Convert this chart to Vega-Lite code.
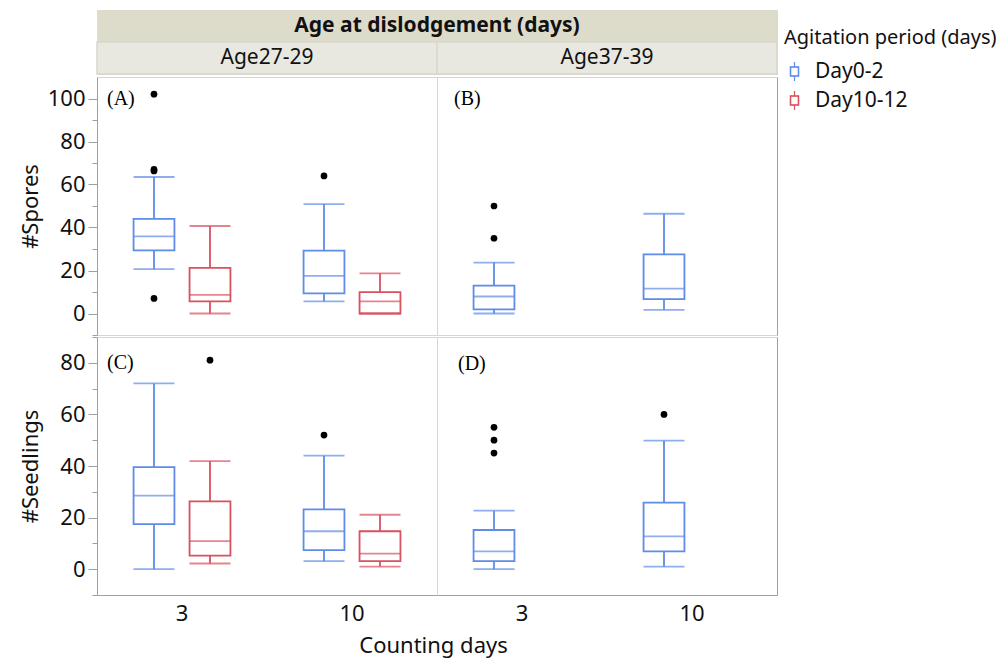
{
 "$schema": "https://vega.github.io/schema/vega-lite/v6.json",
 "background": "white",
 "padding": {"left": 18, "top": 9, "right": 5, "bottom": 5},
 "spacing": 0,
 "datasets": {
  "boxes": [
   {"panel":"A","count":"3","period":"Day0-2","lower":20.6,"q1":29.4,"median":35.9,"q3":44.0,"upper":63.5},
   {"panel":"A","count":"3","period":"Day10-12","lower":0,"q1":5.6,"median":8.7,"q3":21.2,"upper":40.7},
   {"panel":"A","count":"10","period":"Day0-2","lower":5.6,"q1":9.4,"median":17.5,"q3":29.2,"upper":50.9},
   {"panel":"A","count":"10","period":"Day10-12","lower":0,"q1":0,"median":5.6,"q3":9.9,"upper":18.7},
   {"panel":"B","count":"3","period":"Day0-2","lower":0,"q1":1.9,"median":7.9,"q3":13.0,"upper":23.7},
   {"panel":"B","count":"10","period":"Day0-2","lower":1.7,"q1":6.7,"median":11.6,"q3":27.5,"upper":46.4},
   {"panel":"C","count":"3","period":"Day0-2","lower":0,"q1":17.5,"median":28.5,"q3":39.6,"upper":72.0},
   {"panel":"C","count":"3","period":"Day10-12","lower":2.2,"q1":5.3,"median":10.9,"q3":26.3,"upper":41.9},
   {"panel":"C","count":"10","period":"Day0-2","lower":3.1,"q1":7.4,"median":14.7,"q3":23.2,"upper":44.0},
   {"panel":"C","count":"10","period":"Day10-12","lower":1.0,"q1":3.1,"median":6.0,"q3":14.7,"upper":21.1},
   {"panel":"D","count":"3","period":"Day0-2","lower":0,"q1":3.1,"median":6.9,"q3":15.2,"upper":22.7},
   {"panel":"D","count":"10","period":"Day0-2","lower":1.0,"q1":6.9,"median":12.7,"q3":25.8,"upper":49.8}
  ],
  "outliers": [
   {"panel":"A","count":"3","period":"Day0-2","value":102},
   {"panel":"A","count":"3","period":"Day0-2","value":67},
   {"panel":"A","count":"3","period":"Day0-2","value":66.3},
   {"panel":"A","count":"3","period":"Day0-2","value":7},
   {"panel":"A","count":"10","period":"Day0-2","value":64},
   {"panel":"B","count":"3","period":"Day0-2","value":50},
   {"panel":"B","count":"3","period":"Day0-2","value":35},
   {"panel":"C","count":"3","period":"Day10-12","value":81},
   {"panel":"C","count":"10","period":"Day0-2","value":52},
   {"panel":"D","count":"3","period":"Day0-2","value":55},
   {"panel":"D","count":"3","period":"Day0-2","value":50},
   {"panel":"D","count":"3","period":"Day0-2","value":45},
   {"panel":"D","count":"10","period":"Day0-2","value":60}
  ],
  "labels": [
   {"panel":"A","count":"3","label":"(A)","y":97.1},
   {"panel":"B","count":"3","label":"(B)","y":97.1},
   {"panel":"C","count":"3","label":"(C)","y":77.6},
   {"panel":"D","count":"3","label":"(D)","y":77.2}
  ],
  "header": [
   {"level":"title","age":"Age27-29"},
   {"level":"title","age":"Age37-39"},
   {"level":"sub","age":"Age27-29"},
   {"level":"sub","age":"Age37-39"}
  ]
 },
 "vconcat": [
  {
   "width": 680, "height": 64,
   "data": {"name": "header"},
   "encoding": {
    "x": {"field":"age","type":"nominal","scale":{"domain":["Age27-29","Age37-39"],"paddingInner":0,"paddingOuter":0},"axis":null},
    "y": {"field":"level","type":"nominal","scale":{"domain":["title","sub"],"paddingInner":0,"paddingOuter":0},
          "axis":{"labels":false,"ticks":false,"domain":false,"title":"#","titleOpacity":0,"titleFontSize":22,"titleFont":"Noto Sans","minExtent":52,"maxExtent":52,"titlePadding":3}}
   },
   "layer": [
    {"transform":[{"filter":"datum.level === 'title'"}],"mark":{"type":"rect","fill":"#dddbca"}},
    {"transform":[{"filter":"datum.level === 'sub'"}],"mark":{"type":"rect","fill":"#e9e8e0","stroke":"#d8d7cd","strokeWidth":1.5}},
    {"data":{"values":[{"level":"title","age":"Age27-29","label":"Age at dislodgement (days)"}]},
     "mark":{"type":"text","font":"Noto Sans","fontSize":21,"fontWeight":"bold","color":"#111"},
     "encoding":{"x":{"field":"age","type":"nominal","bandPosition":1},"text":{"field":"label"}}},
    {"transform":[{"filter":"datum.level === 'sub'"}],"mark":{"type":"text","font":"Noto Sans","fontSize":21,"color":"#111"},
     "encoding":{"text":{"field":"age"}}}
   ]
  },
  {
   "hconcat": [
    {
     "width": 340, "height": 258,
     "encoding": {
      "x": {"field":"count","type":"nominal","scale":{"domain":["3","10"],"paddingInner":0,"paddingOuter":0},"axis":null}
     },
     "resolve": {"axis": {"y": "independent"}},
     "layer": [
      {"data":{"name":"boxes"},"transform":[{"filter":"datum.panel === 'A'"}],
       "mark":{"type":"rule","strokeWidth":1.8},
       "encoding":{
        "xOffset": {"field":"period","type":"nominal","scale":{"domain":["Day0-2","Day10-12"],"paddingInner":0.27,"paddingOuter":0.653}},
        "y":{"field":"lower","type":"quantitative","scale":{"domain":[-10,110],"nice":false,"zero":false},
             "axis":{"orient":"left","title":"#Spores","values":[0,20,40,60,80,100],"tickSize":9,"tickColor":"#a0a0a0","domainColor":"#a0a0a0","labelFontSize":22,"labelFont":"Noto Sans","labelColor":"#111","labelPadding":3,"titleFontSize":22,"titleFont":"Noto Sans","titleFontWeight":"normal","titleColor":"#111","minExtent":52,"maxExtent":52,"titlePadding":3,"grid":false,"labelOverlap":false}},
        "y2":{"field":"upper"},
        "stroke":{"field":"period","type":"nominal","scale":{"domain":["Day0-2","Day10-12"],"range":["#5e8ce8","#d9505f"]}}
       }},
      {"data":{"name":"boxes"},"transform":[{"filter":"datum.panel === 'A'"}],
       "mark":{"type":"bar","fill":"white","strokeWidth":1.8},
       "encoding":{
        "xOffset": {"field":"period","type":"nominal","scale":{"domain":["Day0-2","Day10-12"],"paddingInner":0.27,"paddingOuter":0.653}},
        "y":{"field":"q1","type":"quantitative","axis":{"orient":"left","title":null,"values":[-10,10,30,50,70,90],"labels":false,"domain":false,"tickSize":5,"tickColor":"#a0a0a0","grid":false}},"y2":{"field":"q3"},
        "stroke":{"field":"period","type":"nominal","scale":{"domain":["Day0-2","Day10-12"],"range":["#5e8ce8","#d9505f"]},
          "legend":{"title":"Agitation period (days)","orient":"none","legendX":687,"legendY":18,"titleLimit":400,"titleFontSize":20,"titleFont":"Noto Sans","titleFontWeight":"normal","titleColor":"#111","titlePadding":13,"labelFontSize":21,"labelFont":"Noto Sans","labelColor":"#111","labelOffset":10,
            "symbolType":"M -0.44 -0.5 L 0.44 -0.5 L 0.44 0.5 L -0.44 0.5 Z M -0.4 -0.46 L -0.4 0.46 L 0.4 0.46 L 0.4 -0.46 Z M 0 -0.5 L 0 -1 M 0 0.5 L 0 1",
            "symbolSize":361,"symbolStrokeWidth":1.2,"rowPadding":4}}}},
      {"data":{"name":"boxes"},"transform":[{"filter":"datum.panel === 'A'"},{"fold":["lower","median","upper"],"as":["stat","v"]}],
       "mark":{"type":"tick","size":41,"thickness":1.8},
       "encoding":{
        "xOffset": {"field":"period","type":"nominal","scale":{"domain":["Day0-2","Day10-12"],"paddingInner":0.27,"paddingOuter":0.653}},
        "y":{"field":"v","type":"quantitative","axis":null},
        "color":{"field":"period","type":"nominal","scale":{"domain":["Day0-2","Day10-12"],"range":["#5e8ce8","#d9505f"]},"legend":null}}},
      {"data":{"name":"outliers"},"transform":[{"filter":"datum.panel === 'A'"}],
       "mark":{"type":"circle","size":45,"color":"#000","opacity":1},
       "encoding":{
        "xOffset": {"field":"period","type":"nominal","scale":{"domain":["Day0-2","Day10-12"],"paddingInner":0.27,"paddingOuter":0.653}},
        "y":{"field":"value","type":"quantitative","axis":null}}},
      {"data":{"name":"labels"},"transform":[{"filter":"datum.panel === 'A'"}],
       "mark":{"type":"text","align":"left","baseline":"alphabetic","dx":10,"font":"Liberation Serif","fontSize":20,"color":"#000"},
       "encoding":{"x":{"field":"count","type":"nominal","bandPosition":0},"y":{"field":"y","type":"quantitative","axis":null},"text":{"field":"label"}}}
     ]
    },
    {
     "width": 340, "height": 258,
     "encoding": {
      "x": {"field":"count","type":"nominal","scale":{"domain":["3","10"],"paddingInner":0,"paddingOuter":0},"axis":null}
     },
     "layer": [
      {"data":{"name":"boxes"},"transform":[{"filter":"datum.panel === 'B'"}],
       "mark":{"type":"rule","strokeWidth":1.8},
       "encoding":{
        "xOffset": {"field":"period","type":"nominal","scale":{"domain":["Day0-2","Day10-12"],"paddingInner":0.27,"paddingOuter":0.653}},
        "y":{"field":"lower","type":"quantitative","scale":{"domain":[-10,110],"nice":false,"zero":false},
             "axis":{"orient":"right","title":null,"labels":false,"ticks":false,"grid":false,"domainColor":"#a0a0a0"}},
        "y2":{"field":"upper"},
        "stroke":{"field":"period","type":"nominal","scale":{"domain":["Day0-2","Day10-12"],"range":["#5e8ce8","#d9505f"]}}
       }},
      {"data":{"name":"boxes"},"transform":[{"filter":"datum.panel === 'B'"}],
       "mark":{"type":"bar","fill":"white","strokeWidth":1.8},
       "encoding":{
        "xOffset": {"field":"period","type":"nominal","scale":{"domain":["Day0-2","Day10-12"],"paddingInner":0.27,"paddingOuter":0.653}},
        "y":{"field":"q1","type":"quantitative"},"y2":{"field":"q3"},
        "stroke":{"field":"period","type":"nominal","scale":{"domain":["Day0-2","Day10-12"],"range":["#5e8ce8","#d9505f"]}}}},
      {"data":{"name":"boxes"},"transform":[{"filter":"datum.panel === 'B'"},{"fold":["lower","median","upper"],"as":["stat","v"]}],
       "mark":{"type":"tick","size":41,"thickness":1.8},
       "encoding":{
        "xOffset": {"field":"period","type":"nominal","scale":{"domain":["Day0-2","Day10-12"],"paddingInner":0.27,"paddingOuter":0.653}},
        "y":{"field":"v","type":"quantitative"},
        "color":{"field":"period","type":"nominal","scale":{"domain":["Day0-2","Day10-12"],"range":["#5e8ce8","#d9505f"]},"legend":null}}},
      {"data":{"name":"outliers"},"transform":[{"filter":"datum.panel === 'B'"}],
       "mark":{"type":"circle","size":45,"color":"#000","opacity":1},
       "encoding":{
        "xOffset": {"field":"period","type":"nominal","scale":{"domain":["Day0-2","Day10-12"],"paddingInner":0.27,"paddingOuter":0.653}},
        "y":{"field":"value","type":"quantitative"}}},
      {"data":{"name":"labels"},"transform":[{"filter":"datum.panel === 'B'"}],
       "mark":{"type":"text","align":"left","baseline":"alphabetic","dx":17,"font":"Liberation Serif","fontSize":20,"color":"#000"},
       "encoding":{"x":{"field":"count","type":"nominal","bandPosition":0},"y":{"field":"y","type":"quantitative"},"text":{"field":"label"}}}
     ]
    }
   ],
   "spacing": 0,
   "bounds": "flush"
  },
  {
   "hconcat": [
    {
     "width": 340, "height": 258,
     "encoding": {
      "x": {"field":"count","type":"nominal","scale":{"domain":["3","10"],"paddingInner":0,"paddingOuter":0},
            "axis":{"title":"Counting days","titleX":336,"labelAngle":0,"ticks":false,"domainColor":"#a0a0a0","labelFontSize":22,"labelFont":"Noto Sans","labelColor":"#111","labelPadding":8,"titleFontSize":22,"titleFont":"Noto Sans","titleFontWeight":"normal","titleColor":"#111","titlePadding":11}}
     },
     "resolve": {"axis": {"y": "independent"}},
     "layer": [
      {"data":{"name":"boxes"},"transform":[{"filter":"datum.panel === 'C'"}],
       "mark":{"type":"rule","strokeWidth":1.8},
       "encoding":{
        "xOffset": {"field":"period","type":"nominal","scale":{"domain":["Day0-2","Day10-12"],"paddingInner":0.27,"paddingOuter":0.653}},
        "y":{"field":"lower","type":"quantitative","scale":{"domain":[-10,90],"nice":false,"zero":false},
             "axis":{"orient":"left","title":"#Seedlings","values":[0,20,40,60,80],"tickSize":9,"tickColor":"#a0a0a0","domainColor":"#a0a0a0","labelFontSize":22,"labelFont":"Noto Sans","labelColor":"#111","labelPadding":3,"titleFontSize":22,"titleFont":"Noto Sans","titleFontWeight":"normal","titleColor":"#111","minExtent":52,"maxExtent":52,"titlePadding":3,"grid":false,"labelOverlap":false}},
        "y2":{"field":"upper"},
        "stroke":{"field":"period","type":"nominal","scale":{"domain":["Day0-2","Day10-12"],"range":["#5e8ce8","#d9505f"]}}
       }},
      {"data":{"name":"boxes"},"transform":[{"filter":"datum.panel === 'C'"}],
       "mark":{"type":"bar","fill":"white","strokeWidth":1.8},
       "encoding":{
        "xOffset": {"field":"period","type":"nominal","scale":{"domain":["Day0-2","Day10-12"],"paddingInner":0.27,"paddingOuter":0.653}},
        "y":{"field":"q1","type":"quantitative","axis":{"orient":"left","title":null,"values":[-10,10,30,50,70,90],"labels":false,"domain":false,"tickSize":5,"tickColor":"#a0a0a0","grid":false}},"y2":{"field":"q3"},
        "stroke":{"field":"period","type":"nominal","scale":{"domain":["Day0-2","Day10-12"],"range":["#5e8ce8","#d9505f"]}}}},
      {"data":{"name":"boxes"},"transform":[{"filter":"datum.panel === 'C'"},{"fold":["lower","median","upper"],"as":["stat","v"]}],
       "mark":{"type":"tick","size":41,"thickness":1.8},
       "encoding":{
        "xOffset": {"field":"period","type":"nominal","scale":{"domain":["Day0-2","Day10-12"],"paddingInner":0.27,"paddingOuter":0.653}},
        "y":{"field":"v","type":"quantitative","axis":null},
        "color":{"field":"period","type":"nominal","scale":{"domain":["Day0-2","Day10-12"],"range":["#5e8ce8","#d9505f"]},"legend":null}}},
      {"data":{"name":"outliers"},"transform":[{"filter":"datum.panel === 'C'"}],
       "mark":{"type":"circle","size":45,"color":"#000","opacity":1},
       "encoding":{
        "xOffset": {"field":"period","type":"nominal","scale":{"domain":["Day0-2","Day10-12"],"paddingInner":0.27,"paddingOuter":0.653}},
        "y":{"field":"value","type":"quantitative","axis":null}}},
      {"data":{"name":"labels"},"transform":[{"filter":"datum.panel === 'C'"}],
       "mark":{"type":"text","align":"left","baseline":"alphabetic","dx":10,"font":"Liberation Serif","fontSize":20,"color":"#000"},
       "encoding":{"x":{"field":"count","type":"nominal","bandPosition":0},"y":{"field":"y","type":"quantitative","axis":null},"text":{"field":"label"}}}
     ]
    },
    {
     "width": 340, "height": 258,
     "encoding": {
      "x": {"field":"count","type":"nominal","scale":{"domain":["3","10"],"paddingInner":0,"paddingOuter":0},
            "axis":{"title":null,"labelAngle":0,"ticks":false,"domainColor":"#a0a0a0","labelFontSize":22,"labelFont":"Noto Sans","labelColor":"#111","labelPadding":8}}
     },
     "layer": [
      {"data":{"name":"boxes"},"transform":[{"filter":"datum.panel === 'D'"}],
       "mark":{"type":"rule","strokeWidth":1.8},
       "encoding":{
        "xOffset": {"field":"period","type":"nominal","scale":{"domain":["Day0-2","Day10-12"],"paddingInner":0.27,"paddingOuter":0.653}},
        "y":{"field":"lower","type":"quantitative","scale":{"domain":[-10,90],"nice":false,"zero":false},
             "axis":{"orient":"right","title":null,"labels":false,"ticks":false,"grid":false,"domainColor":"#a0a0a0"}},
        "y2":{"field":"upper"},
        "stroke":{"field":"period","type":"nominal","scale":{"domain":["Day0-2","Day10-12"],"range":["#5e8ce8","#d9505f"]}}
       }},
      {"data":{"name":"boxes"},"transform":[{"filter":"datum.panel === 'D'"}],
       "mark":{"type":"bar","fill":"white","strokeWidth":1.8},
       "encoding":{
        "xOffset": {"field":"period","type":"nominal","scale":{"domain":["Day0-2","Day10-12"],"paddingInner":0.27,"paddingOuter":0.653}},
        "y":{"field":"q1","type":"quantitative"},"y2":{"field":"q3"},
        "stroke":{"field":"period","type":"nominal","scale":{"domain":["Day0-2","Day10-12"],"range":["#5e8ce8","#d9505f"]}}}},
      {"data":{"name":"boxes"},"transform":[{"filter":"datum.panel === 'D'"},{"fold":["lower","median","upper"],"as":["stat","v"]}],
       "mark":{"type":"tick","size":41,"thickness":1.8},
       "encoding":{
        "xOffset": {"field":"period","type":"nominal","scale":{"domain":["Day0-2","Day10-12"],"paddingInner":0.27,"paddingOuter":0.653}},
        "y":{"field":"v","type":"quantitative"},
        "color":{"field":"period","type":"nominal","scale":{"domain":["Day0-2","Day10-12"],"range":["#5e8ce8","#d9505f"]},"legend":null}}},
      {"data":{"name":"outliers"},"transform":[{"filter":"datum.panel === 'D'"}],
       "mark":{"type":"circle","size":45,"color":"#000","opacity":1},
       "encoding":{
        "xOffset": {"field":"period","type":"nominal","scale":{"domain":["Day0-2","Day10-12"],"paddingInner":0.27,"paddingOuter":0.653}},
        "y":{"field":"value","type":"quantitative"}}},
      {"data":{"name":"labels"},"transform":[{"filter":"datum.panel === 'D'"}],
       "mark":{"type":"text","align":"left","baseline":"alphabetic","dx":21,"font":"Liberation Serif","fontSize":20,"color":"#000"},
       "encoding":{"x":{"field":"count","type":"nominal","bandPosition":0},"y":{"field":"y","type":"quantitative"},"text":{"field":"label"}}}
     ]
    }
   ],
   "spacing": 0,
   "bounds": "flush"
  }
 ],
 "config": {
  "font": "Noto Sans",
  "view": {"stroke": "#d6d6d6", "strokeWidth": 1},
  "axis": {"grid": false}
 }
}
